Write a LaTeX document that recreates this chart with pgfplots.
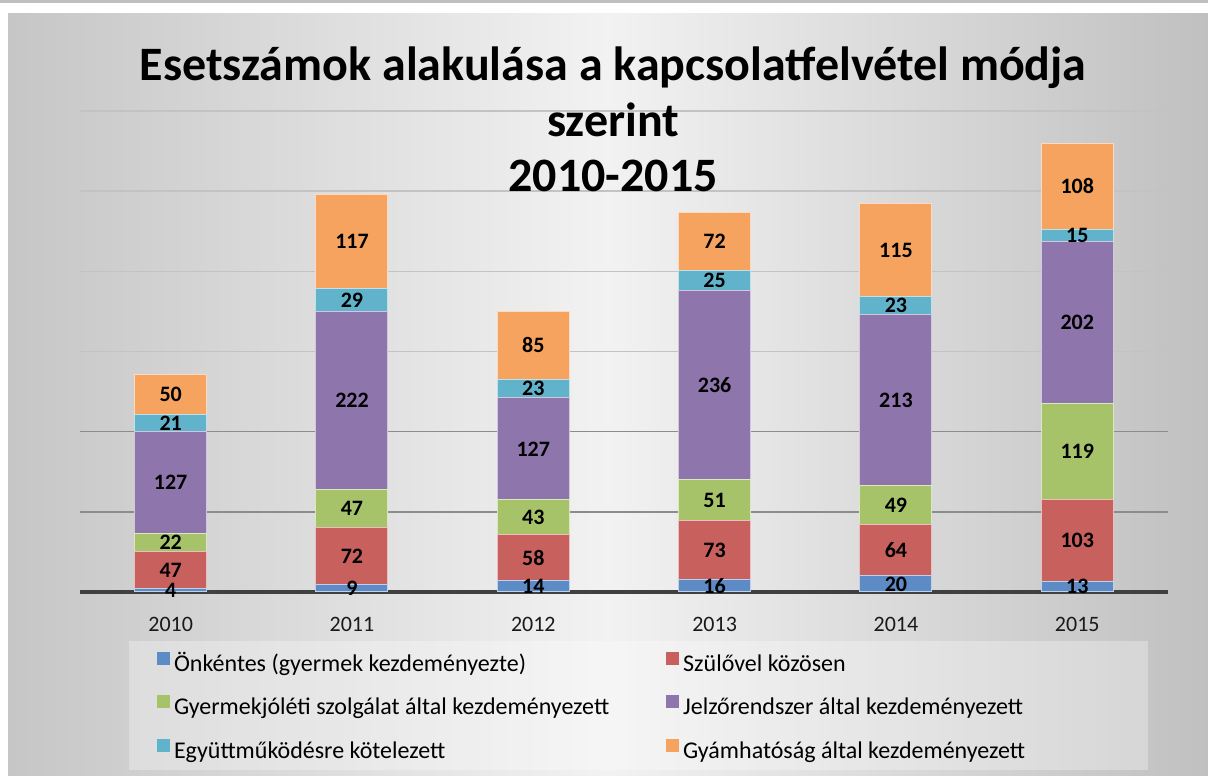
\documentclass[border=0pt]{standalone}
\usepackage{pgfplots}
\usepackage{pgfplotstable}
\pgfplotsset{compat=1.18}
\usepackage{fontspec}
\setmainfont{Carlito}
\definecolor{cBlue}{RGB}{92,139,198}
\definecolor{cRed}{RGB}{200,96,94}
\definecolor{cGreen}{RGB}{166,195,106}
\definecolor{cPurple}{RGB}{142,117,171}
\definecolor{cCyan}{RGB}{96,179,202}
\definecolor{cOrange}{RGB}{245,163,94}
\definecolor{gridDark}{RGB}{140,140,140}
\definecolor{gridLight}{RGB}{195,195,195}
\definecolor{baseLine}{RGB}{64,64,64}
\pgfplotstableread{
x a b c d e f
0 4 47 22 127 21 50
1 9 72 47 222 29 117
2 14 58 43 127 23 85
3 16 73 51 236 25 72
4 20 64 49 213 23 115
5 13 103 119 202 15 108
}\data
\begin{document}
\begin{tikzpicture}[x=1pt,y=1pt]
\fill[white] (0,0) rectangle (1208,776);
\fill[gray!50] (0,773) rectangle (1208,776);
\shade[left color={rgb,255:red,198;green,198;blue,198}, right color={rgb,255:red,192;green,192;blue,192}, middle color={rgb,255:red,242;green,242;blue,242}] (8,0) rectangle (1208,762);
\fill[white, opacity=0.3] (129,6) rectangle (1148,135);
\begin{axis}[
  at={(80pt,184pt)}, anchor=south west, scale only axis,
  width=1088pt, height=481pt,
  xmin=-0.5, xmax=5.5, ymin=0, ymax=600,
  ybar stacked, bar width=72pt,
  axis x line*=bottom,
  x axis line style={line width=4pt, draw=baseLine, -},
  y axis line style={draw=none},
  major tick style={draw=none}, minor tick style={draw=none},
  xtick={0,...,5}, xticklabels={2010,2011,2012,2013,2014,2015},
  xticklabel style={font=\fontsize{22}{26}\selectfont, text=black!90, anchor=base, yshift=-40pt},
  ytick={100,200}, yticklabels={}, ymajorgrids,
  grid style={line width=1.5pt, draw=gridDark},
  extra y ticks={300,400,500,600}, extra y tick labels={},
  extra y tick style={grid style={line width=1.5pt, draw=gridLight}},
  /pgf/number format/assume math mode=true,
  nodes near coords={\pgfmathprintnumber[assume math mode=true]{\pgfplotspointmeta}},
  nodes near coords style={font=\bfseries\fontsize{22}{26}\selectfont, text=black, anchor=center},
  legend columns=2,
  legend cell align=left,
  legend style={at={(0.0708,-0.1247)}, anchor=north west, draw=none, fill=none,
    inner sep=0pt, outer sep=0pt,
    font=\fontsize{24}{28}\selectfont, row sep=18pt,
    nodes={inner sep=0pt, text height=18pt, text depth=6pt},
    /tikz/every odd column/.append style={column sep=4pt},
    /tikz/every even column/.append style={column sep=57pt}},
  legend image code/.code={\fill[#1,draw=none] (0pt,0.5pt) rectangle (13pt,13.5pt);},
]
\addplot[fill=cBlue, draw=cBlue!40!white, line width=1pt] table[x=x,y=a,meta=a]{\data};
\addplot[fill=cRed, draw=cRed!40!white, line width=1pt] table[x=x,y=b,meta=b]{\data};
\addplot[fill=cGreen, draw=cGreen!40!white, line width=1pt] table[x=x,y=c,meta=c]{\data};
\addplot[fill=cPurple, draw=cPurple!40!white, line width=1pt] table[x=x,y=d,meta=d]{\data};
\addplot[fill=cCyan, draw=cCyan!40!white, line width=1pt] table[x=x,y=e,meta=e]{\data};
\addplot[fill=cOrange, draw=cOrange!40!white, line width=1pt] table[x=x,y=f,meta=f]{\data};
\legend{Önkéntes (gyermek kezdeményezte), Szülővel közösen, Gyermekjóléti szolgálat által kezdeményezett, Jelzőrendszer által kezdeményezett, Együttműködésre kötelezett, Gyámhatóság által kezdeményezett}
\end{axis}
\node[anchor=base, font=\bfseries\fontsize{48}{56}\selectfont] at (613,695) {Esetszámok alakulása a kapcsolatfelvétel módja};
\node[anchor=base, font=\bfseries\fontsize{48}{56}\selectfont] at (613,639) {szerint};
\node[anchor=base, font=\bfseries\fontsize{48}{56}\selectfont] at (613,584) {2010-2015};
\end{tikzpicture}
\end{document}
